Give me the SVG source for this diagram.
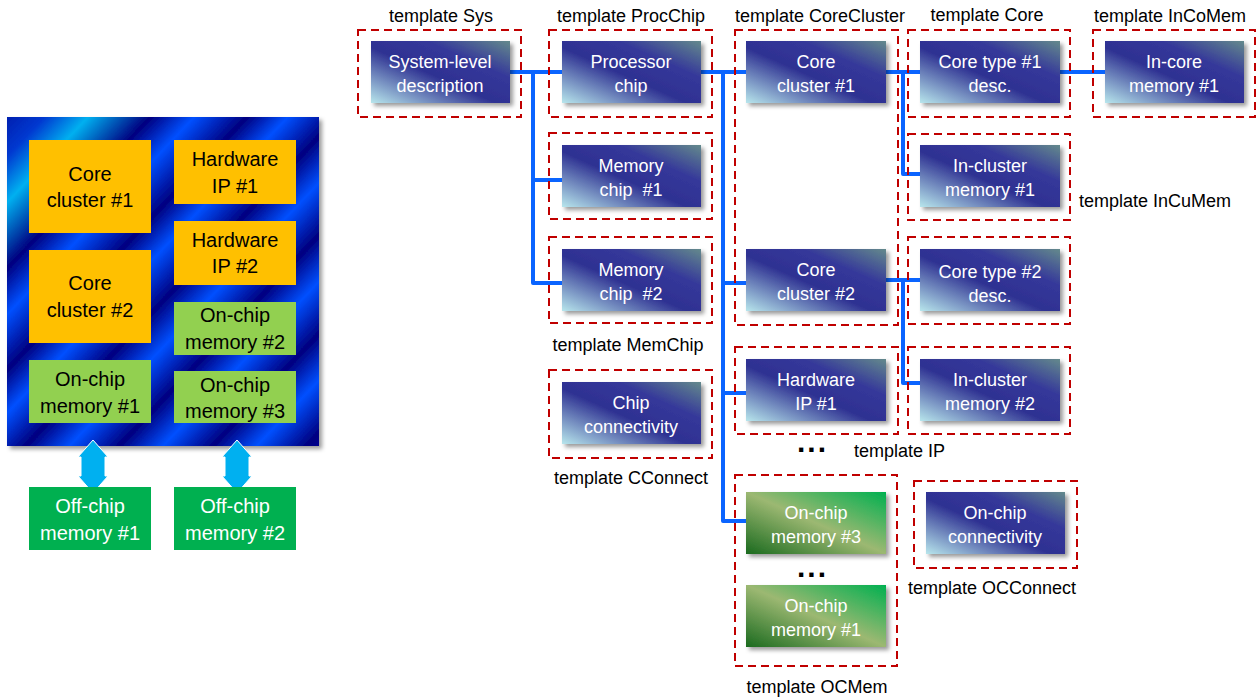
<svg xmlns="http://www.w3.org/2000/svg" width="1260" height="700" viewBox="0 0 1260 700">
<defs>
<style>
.lbl{font-family:"Liberation Sans",Arial,sans-serif;font-size:18px;fill:#000}
.nt{font-family:"Liberation Sans",Arial,sans-serif;font-size:18px;fill:#fff;text-anchor:middle;white-space:pre}
.pt{font-family:"Liberation Sans",Arial,sans-serif;font-size:20px;fill:#000;text-anchor:middle}
.pw{font-family:"Liberation Sans",Arial,sans-serif;font-size:20px;fill:#fff;text-anchor:middle}
.dash{fill:none;stroke:#c00000;stroke-width:2;stroke-dasharray:8 5}
.bn{fill:url(#gBlue);filter:url(#sh)}
.gn{fill:url(#gGreen);filter:url(#sh)}
.con{fill:none;stroke:#0a64ff;stroke-width:4;stroke-linejoin:round}
.dots{font-family:"Liberation Sans",Arial,sans-serif;font-size:30px;font-weight:bold;fill:#000;letter-spacing:2px}
</style>
<linearGradient id="gBlue" x1="0" y1="1" x2="1" y2="0">
<stop offset="0" stop-color="#b8e6ec"/>
<stop offset="0.45" stop-color="#2e3192"/>
<stop offset="0.7" stop-color="#35389a"/>
<stop offset="1" stop-color="#648a8c"/>
</linearGradient>
<linearGradient id="gGreen" x1="0" y1="1" x2="1" y2="0">
<stop offset="0" stop-color="#1a6a1e"/>
<stop offset="0.5" stop-color="#9cb872"/>
<stop offset="1" stop-color="#00b050"/>
</linearGradient>
<linearGradient id="gChip" x1="0" y1="0" x2="1" y2="1">
<stop offset="0" stop-color="#0020b0"/>
<stop offset="0.06" stop-color="#0038d0"/>
<stop offset="0.13" stop-color="#00b0f0"/>
<stop offset="0.23" stop-color="#000080"/>
<stop offset="0.30" stop-color="#0050ff"/>
<stop offset="0.385" stop-color="#000080"/>
<stop offset="0.45" stop-color="#0050ff"/>
<stop offset="0.53" stop-color="#000080"/>
<stop offset="0.60" stop-color="#0050ff"/>
<stop offset="0.68" stop-color="#000080"/>
<stop offset="0.75" stop-color="#0050ff"/>
<stop offset="0.83" stop-color="#000080"/>
<stop offset="0.90" stop-color="#0050ff"/>
<stop offset="0.98" stop-color="#000080"/>
<stop offset="1" stop-color="#000090"/>
</linearGradient>
<filter id="sh" x="-10%" y="-10%" width="130%" height="140%">
<feDropShadow dx="3" dy="3" stdDeviation="2" flood-color="#000" flood-opacity="0.4"/>
</filter>
</defs>

<g id="chip-overview">
<rect x="7" y="117" width="312" height="329" fill="url(#gChip)" filter="url(#sh)"/>
<rect x="29" y="140" width="122" height="93" fill="#ffc000"/>
<text class="pt" x="90" y="181">Core</text><text class="pt" x="90" y="207">cluster #1</text>
<rect x="29" y="250" width="122" height="93" fill="#ffc000"/>
<text class="pt" x="90" y="290">Core</text><text class="pt" x="90" y="317">cluster #2</text>
<rect x="29" y="360" width="122" height="63" fill="#92d050"/>
<text class="pt" x="90" y="386">On-chip</text><text class="pt" x="90" y="413">memory #1</text>
<rect x="174" y="140" width="122" height="64" fill="#ffc000"/>
<text class="pt" x="235" y="166">Hardware</text><text class="pt" x="235" y="193">IP #1</text>
<rect x="174" y="221" width="122" height="64" fill="#ffc000"/>
<text class="pt" x="235" y="247">Hardware</text><text class="pt" x="235" y="273">IP #2</text>
<rect x="174" y="302" width="122" height="53" fill="#92d050"/>
<text class="pt" x="235" y="322">On-chip</text><text class="pt" x="235" y="349">memory #2</text>
<rect x="174" y="371" width="122" height="52" fill="#92d050"/>
<text class="pt" x="235" y="392">On-chip</text><text class="pt" x="235" y="418">memory #3</text>
<polygon points="93,440 108,457 105,457 105,476 108,476 93,493 78,476 81,476 81,457 78,457" fill="#00b0f0" stroke="#fff" stroke-width="1"/>
<polygon points="237,440 252,457 249,457 249,476 252,476 237,493 222,476 225,476 225,457 222,457" fill="#00b0f0" stroke="#fff" stroke-width="1"/>
<rect x="29" y="487" width="122" height="63" fill="#00b050"/>
<text class="pw" x="90" y="513">Off-chip</text><text class="pw" x="90" y="540">memory #1</text>
<rect x="174" y="487" width="122" height="63" fill="#00b050"/>
<text class="pw" x="235" y="513">Off-chip</text><text class="pw" x="235" y="540">memory #2</text>
</g>

<g id="connectors">
<path class="con" d="M510,72 H562"/>
<path class="con" d="M533,72 V283 H562"/>
<path class="con" d="M533,180 H562"/>
<path class="con" d="M701,72 H746"/>
<path class="con" d="M723,72 V521 H746"/>
<path class="con" d="M723,283 H746"/>
<path class="con" d="M723,393 H746"/>
<path class="con" d="M886,72 H920"/>
<path class="con" d="M903,72 V174 H920"/>
<path class="con" d="M1060,72 H1105"/>
<path class="con" d="M886,280 H920"/>
<path class="con" d="M903,280 V383 H920"/>
</g>

<g id="tpl-sys"><rect class="dash" x="358" y="30" width="163" height="87"/><text class="lbl" x="441" y="22" text-anchor="middle">template Sys</text></g>
<g id="tpl-procchip"><rect class="dash" x="549" y="30" width="163" height="87"/><text class="lbl" x="631" y="22" text-anchor="middle">template ProcChip</text></g>
<g id="tpl-memchip1"><rect class="dash" x="549" y="133" width="163" height="86"/></g>
<g id="tpl-memchip2"><rect class="dash" x="549" y="237" width="163" height="86"/><text class="lbl" x="628" y="351" text-anchor="middle">template MemChip</text></g>
<g id="tpl-cconnect"><rect class="dash" x="549" y="370" width="163" height="88"/><text class="lbl" x="631" y="484" text-anchor="middle">template CConnect</text></g>
<g id="tpl-corecluster"><rect class="dash" x="735" y="30" width="163" height="295"/><text class="lbl" x="820" y="22" text-anchor="middle">template CoreCluster</text></g>
<g id="tpl-core1"><rect class="dash" x="908" y="30" width="162" height="87"/><text class="lbl" x="987" y="21" text-anchor="middle">template Core</text></g>
<g id="tpl-incomem"><rect class="dash" x="1093" y="30" width="162" height="87"/><text class="lbl" x="1170" y="22" text-anchor="middle">template InCoMem</text></g>
<g id="tpl-incumem1"><rect class="dash" x="908" y="134" width="162" height="86"/><text class="lbl" x="1079" y="207">template InCuMem</text></g>
<g id="tpl-core2"><rect class="dash" x="908" y="237" width="162" height="87"/></g>
<g id="tpl-incumem2"><rect class="dash" x="908" y="347" width="162" height="87"/></g>
<g id="tpl-ip"><rect class="dash" x="735" y="347" width="163" height="87"/><text class="dots" x="797" y="452">...</text><text class="lbl" x="854" y="457">template IP</text></g>
<g id="tpl-ocmem"><rect class="dash" x="735" y="475" width="162" height="191"/><text class="dots" x="797" y="577">...</text><text class="lbl" x="817" y="693" text-anchor="middle">template OCMem</text></g>
<g id="tpl-occonnect"><rect class="dash" x="914" y="481" width="163" height="87"/><text class="lbl" x="992" y="594" text-anchor="middle">template OCConnect</text></g>

<g id="n-sys"><rect class="bn" x="371" y="41" width="139" height="62"/><text class="nt" x="440" y="68">System-level</text><text class="nt" x="440" y="92">description</text></g>
<g id="n-proc"><rect class="bn" x="562" y="41" width="139" height="62"/><text class="nt" x="631" y="68">Processor</text><text class="nt" x="631" y="92">chip</text></g>
<g id="n-mem1"><rect class="bn" x="562" y="145" width="139" height="62"/><text class="nt" x="631" y="172">Memory</text><text class="nt" x="631" y="196">chip  #1</text></g>
<g id="n-mem2"><rect class="bn" x="562" y="249" width="139" height="62"/><text class="nt" x="631" y="276">Memory</text><text class="nt" x="631" y="300">chip  #2</text></g>
<g id="n-cconn"><rect class="bn" x="562" y="382" width="139" height="62"/><text class="nt" x="631" y="409">Chip</text><text class="nt" x="631" y="433">connectivity</text></g>
<g id="n-cc1"><rect class="bn" x="746" y="41" width="140" height="62"/><text class="nt" x="816" y="68">Core</text><text class="nt" x="816" y="92">cluster #1</text></g>
<g id="n-cc2"><rect class="bn" x="746" y="249" width="140" height="62"/><text class="nt" x="816" y="276">Core</text><text class="nt" x="816" y="300">cluster #2</text></g>
<g id="n-hw1"><rect class="bn" x="746" y="359" width="140" height="62"/><text class="nt" x="816" y="386">Hardware</text><text class="nt" x="816" y="410">IP #1</text></g>
<g id="n-ct1"><rect class="bn" x="920" y="41" width="140" height="62"/><text class="nt" x="990" y="68">Core type #1</text><text class="nt" x="990" y="92">desc.</text></g>
<g id="n-icm1"><rect class="bn" x="920" y="145" width="140" height="62"/><text class="nt" x="990" y="172">In-cluster</text><text class="nt" x="990" y="196">memory #1</text></g>
<g id="n-ct2"><rect class="bn" x="920" y="249" width="140" height="62"/><text class="nt" x="990" y="278">Core type #2</text><text class="nt" x="990" y="302">desc.</text></g>
<g id="n-icm2"><rect class="bn" x="920" y="359" width="140" height="62"/><text class="nt" x="990" y="386">In-cluster</text><text class="nt" x="990" y="410">memory #2</text></g>
<g id="n-incore"><rect class="bn" x="1105" y="41" width="139" height="62"/><text class="nt" x="1174" y="68">In-core</text><text class="nt" x="1174" y="92">memory #1</text></g>
<g id="n-ocm3"><rect class="gn" x="746" y="492" width="140" height="62"/><text class="nt" x="816" y="519">On-chip</text><text class="nt" x="816" y="543">memory #3</text></g>
<g id="n-ocm1"><rect class="gn" x="746" y="585" width="140" height="62"/><text class="nt" x="816" y="612">On-chip</text><text class="nt" x="816" y="636">memory #1</text></g>
<g id="n-occonn"><rect class="bn" x="926" y="492" width="139" height="62"/><text class="nt" x="995" y="519">On-chip</text><text class="nt" x="995" y="543">connectivity</text></g>
</svg>
